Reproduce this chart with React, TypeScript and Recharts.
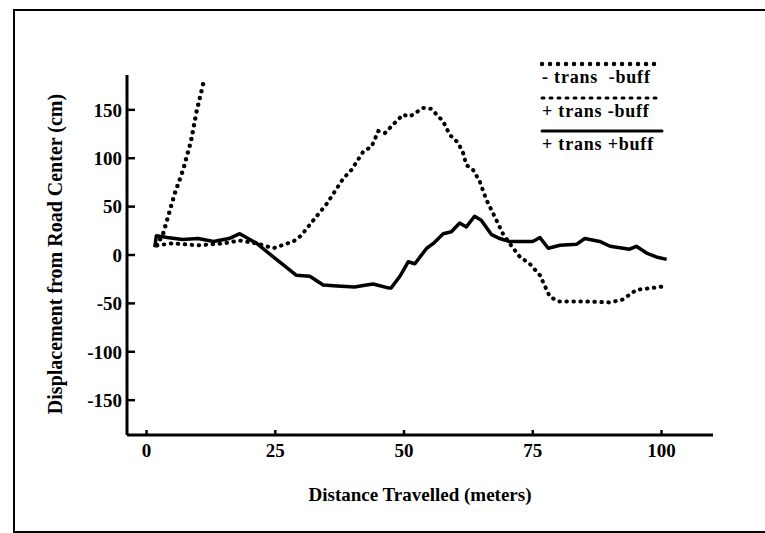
import { Legend, Line, LineChart, XAxis, YAxis } from "recharts";

// - trans -buff (heavy dots, runs off the top)
const noTransNoBuffX = [2, 3.2, 4.2, 5.5, 7.1, 8.6, 9.7, 11];
const noTransNoBuffY = [10, 22, 40, 64, 88, 117, 148, 177];

// + trans -buff (dotted hump)
const transNoBuffX = [
  2, 5, 10, 15, 18, 21.4, 24.6, 28.5, 30, 32.4, 35, 38.2, 39.8, 42.1, 43.7, 45, 46.3,
  47.9, 49.8, 51.1, 53.7, 55.3, 57.6, 58.9, 60.5, 61.5, 62.1, 63.4, 64.7, 66, 67.3, 69.2,
  70.5, 72.5, 74.4, 76.4, 78.3, 80, 85, 90, 92.5, 95.1, 98.4, 101,
];
const transNoBuffY = [
  10, 12, 10, 12, 15, 12, 7, 14, 20, 36, 53, 79, 88, 107, 112, 128, 126, 135, 145, 143,
  152, 151, 138, 124, 116, 105, 93, 88, 76, 57, 43, 22, 12, -2, -9, -21, -43, -48, -48,
  -49, -46, -36, -34, -32,
];

// + trans +buff (solid)
const transBuffX = [
  1.6, 1.9, 4, 7, 10, 13, 16, 18.1, 21.4, 24.6, 26.5, 29.1, 31.7, 34.3, 37, 40.4, 42.7,
  44, 46.9, 47.5, 49.2, 50.8, 52.1, 54.4, 55.7, 57.6, 59.2, 60.8, 62.1, 63.7, 65, 67,
  68.6, 70.5, 72.5, 75, 76.4, 78, 80.3, 83.5, 85.1, 88, 90, 93.8, 95.1, 97.1, 99, 101,
];
const transBuffY = [
  8, 20, 18, 16, 17, 14, 17, 22, 12, -2, -10, -21, -22, -31, -32, -33, -31, -30, -34, -34,
  -22, -7, -9, 7, 12, 22, 24, 33, 29, 40, 36, 21, 17, 14, 14, 14, 18, 7, 10, 11, 17, 14, 9,
  6, 9, 2, -2, -4.5,
];

const xTicks = [0, 25, 50, 75, 100];
const yTicks = [-150, -100, -50, 0, 50, 100, 150];

const legendRows = [
  { label: "- trans  -buff", dash: "0 8", width: 4.5 },
  { label: "+ trans -buff", dash: "2 6", width: 3 },
  { label: "+ trans +buff", dash: undefined, width: 3 },
];

const toPoints = (xs: number[], ys: number[]) => xs.map((x, i) => ({ x, y: ys[i] }));

const serif = '"Liberation Serif", "Times New Roman", serif';
const tickStyle = { fill: "#000", fontFamily: serif, fontWeight: 700, fontSize: 19 };

function LegendBox() {
  return (
    <svg width={130} height={100} style={{ display: "block" }}>
      {legendRows.map((row, i) => {
        const top = [8, 42, 75][i];
        return (
          <g key={row.label}>
            <line
              x1={4}
              x2={124}
              y1={top}
              y2={top}
              stroke="#000"
              strokeWidth={row.width}
              strokeDasharray={row.dash}
              strokeLinecap="round"
            />
            <text
              x={4}
              y={top + 19}
              fontFamily={serif}
              fontWeight={700}
              fontSize={18}
              letterSpacing={0.8}
              style={{ whiteSpace: "pre" }}
            >
              {row.label}
            </text>
          </g>
        );
      })}
    </svg>
  );
}

export default function App() {
  return (
    <div style={{ position: "absolute", left: 0, top: 0, width: 765, height: 533 }}>
      <div
        style={{
          position: "absolute",
          left: 13,
          top: 9,
          width: 760,
          height: 520,
          border: "2.5px solid #000",
        }}
      />
      <LineChart
        width={765}
        height={533}
        margin={{ top: 75, right: 52, left: 67, bottom: 68 }}
        style={{ position: "absolute", left: 0, top: 0 }}
      >
        <XAxis
          type="number"
          dataKey="x"
          domain={[-3.8, 110]}
          ticks={xTicks}
          allowDataOverflow
          height={30}
          tickSize={-5}
          tickMargin={14}
          tick={tickStyle}
          axisLine={{ stroke: "#000", strokeWidth: 3 }}
          tickLine={{ stroke: "#000", strokeWidth: 2.5 }}
          label={() => (
            <text
              x={420}
              y={494}
              textAnchor="middle"
              dominantBaseline="central"
              fontFamily={serif}
              fontWeight={700}
              fontSize={19}
            >
              Distance Travelled (meters)
            </text>
          )}
        />
        <YAxis
          type="number"
          dataKey="y"
          domain={[-186, 186]}
          ticks={yTicks}
          allowDataOverflow
          width={60}
          tickSize={-8}
          tickMargin={13}
          tick={tickStyle}
          axisLine={{ stroke: "#000", strokeWidth: 3 }}
          tickLine={{ stroke: "#000", strokeWidth: 2.5 }}
          label={() => (
            <text
              x={55}
              y={254}
              transform="rotate(-90 55 254)"
              textAnchor="middle"
              dominantBaseline="central"
              fontFamily={serif}
              fontWeight={700}
              fontSize={20}
            >
              Displacement from Road Center (cm)
            </text>
          )}
        />
        <Legend
          layout="vertical"
          align="center"
          verticalAlign="middle"
          content={() => <LegendBox />}
          wrapperStyle={{ position: "absolute", left: 538, top: 56, width: 130, height: 100 }}
        />
        <Line
          data={toPoints(noTransNoBuffX, noTransNoBuffY)}
          dataKey="y"
          name="- trans -buff"
          type="linear"
          stroke="#000"
          strokeWidth={4.5}
          strokeDasharray="0 7"
          strokeLinecap="round"
          dot={false}
          isAnimationActive={false}
        />
        <Line
          data={toPoints(transNoBuffX, transNoBuffY)}
          dataKey="y"
          name="+ trans -buff"
          type="linear"
          stroke="#000"
          strokeWidth={4}
          strokeDasharray="0.5 6.5"
          strokeLinecap="round"
          dot={false}
          isAnimationActive={false}
        />
        <Line
          data={toPoints(transBuffX, transBuffY)}
          dataKey="y"
          name="+ trans +buff"
          type="linear"
          stroke="#000"
          strokeWidth={3.5}
          strokeLinejoin="round"
          dot={false}
          isAnimationActive={false}
        />
      </LineChart>
    </div>
  );
}
